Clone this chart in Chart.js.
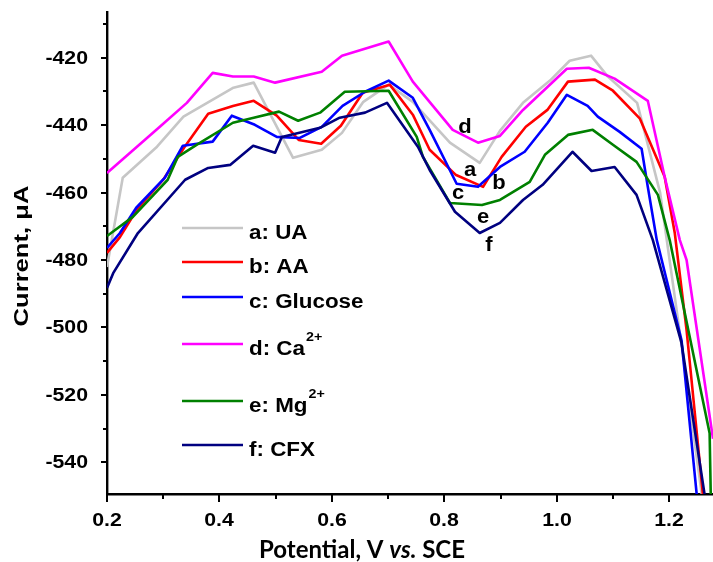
<!DOCTYPE html>
<html>
<head>
<meta charset="utf-8">
<script src="https://cdn.jsdelivr.net/npm/chart.js@4.4.1/dist/chart.umd.min.js"></script>
<style>
  html, body { margin: 0; padding: 0; background: #ffffff; }
  #wrap { width: 713px; height: 562px; }
  canvas { display: block; }
</style>
</head>
<body>
<div id="wrap"><canvas id="dpv" width="713" height="562"></canvas></div>
<script>
// Differential pulse voltammograms: potential (V vs. SCE) and current (µA)
const seriesNames = ['a: UA', 'b: AA', 'c: Glucose', 'd: Ca', 'e: Mg', 'f: CFX'];
const seriesSup   = ['', '', '', '2+', '2+', ''];
const curveTags   = ['a', 'b', 'c', 'd', 'e', 'f'];

const uaV = [0.200,0.228,0.289,0.336,0.425,0.461,0.531,0.582,0.618,0.656,0.701,0.744,0.810,0.863,0.899,0.940,0.988,1.023,1.061,1.091,1.143,1.184,1.222,1.258];
const uaI = [-482.1,-455.6,-446.4,-437.5,-428.9,-427.4,-449.7,-447.3,-442.3,-433.1,-428.0,-433.1,-445.2,-451.2,-441.7,-433.4,-426.8,-420.9,-419.4,-425.6,-433.4,-460.1,-505.2,-549.5];

const aaV = [0.200,0.223,0.253,0.300,0.337,0.380,0.424,0.461,0.502,0.541,0.581,0.616,0.655,0.703,0.744,0.774,0.820,0.869,0.902,0.945,0.984,1.020,1.068,1.100,1.148,1.192,1.210,1.231,1.260];
const aaI = [-477.9,-473.2,-465.1,-456.2,-446.7,-436.6,-434.3,-432.8,-437.2,-444.4,-445.5,-440.2,-430.4,-428.0,-436.9,-447.3,-454.7,-458.3,-449.4,-440.5,-435.4,-427.1,-426.5,-429.8,-438.1,-455.3,-472.0,-500.8,-549.5];

const glucoseV = [0.200,0.223,0.252,0.303,0.335,0.388,0.422,0.463,0.502,0.543,0.582,0.619,0.659,0.701,0.744,0.774,0.822,0.860,0.899,0.943,0.984,1.018,1.055,1.073,1.112,1.151,1.162,1.178,1.222,1.249];
const glucoseI = [-476.4,-472.0,-464.5,-455.6,-446.1,-444.9,-437.2,-439.9,-443.5,-443.8,-440.5,-434.3,-430.1,-426.8,-431.9,-441.4,-457.4,-458.3,-452.4,-447.9,-439.3,-431.0,-434.3,-437.5,-442.0,-447.0,-458.3,-474.1,-503.8,-549.5];

const caV = [0.200,0.294,0.342,0.388,0.424,0.461,0.499,0.582,0.618,0.701,0.744,0.815,0.860,0.899,0.940,0.984,1.018,1.057,1.103,1.162,1.192,1.219,1.231,1.278];
const caI = [-454.2,-440.5,-433.4,-424.5,-425.6,-425.6,-427.4,-424.2,-419.4,-415.2,-427.1,-441.4,-445.2,-443.2,-435.5,-428.6,-423.3,-423.0,-426.2,-432.8,-455.3,-474.1,-480.0,-533.0];

const mgV = [0.200,0.246,0.308,0.326,0.360,0.424,0.461,0.506,0.540,0.579,0.623,0.701,0.751,0.762,0.810,0.867,0.899,0.952,0.979,1.020,1.064,1.100,1.142,1.180,1.201,1.272,1.274];
const mgI = [-472.9,-467.2,-456.2,-449.4,-445.8,-439.3,-437.8,-436.0,-438.7,-436.3,-430.1,-429.8,-443.5,-449.4,-463.1,-463.7,-462.2,-456.8,-448.8,-442.9,-441.4,-445.8,-450.9,-460.7,-474.1,-531.4,-549.5];

const cfxV = [0.200,0.211,0.255,0.339,0.380,0.419,0.460,0.499,0.511,0.579,0.614,0.659,0.698,0.753,0.774,0.819,0.863,0.899,0.940,0.975,1.028,1.062,1.103,1.142,1.171,1.222,1.263];
const cfxI = [-488.3,-483.9,-472.0,-456.2,-452.7,-451.8,-446.1,-448.2,-443.5,-440.8,-437.8,-436.3,-433.4,-446.4,-453.3,-465.7,-472.0,-469.0,-462.2,-457.7,-447.9,-453.6,-452.4,-460.7,-474.1,-504.6,-549.5];

const xMajorTicks = [0.2, 0.4, 0.6, 0.8, 1.0, 1.2];
const xTickLabels = ['0.2', '0.4', '0.6', '0.8', '1.0', '1.2'];
const xMinorTicks = [0.3, 0.5, 0.7, 0.9, 1.1];
const yMajorTicks = [-540, -520, -500, -480, -460, -440, -420];
const yTickLabels = ['-540', '-520', '-500', '-480', '-460', '-440', '-420'];
const yMinorTicks = [-530, -510, -490, -470, -450, -430, -410];

const colors = ['#c6c6c6', '#ff0000', '#0000ff', '#ff00ff', '#008000', '#000080'];
const curves = [[uaV, uaI], [aaV, aaI], [glucoseV, glucoseI], [caV, caI], [mgV, mgI], [cfxV, cfxI]];

const datasets = curves.map(([vs, is], k) => ({
  label: seriesNames[k] + seriesSup[k],
  data: vs.map((v, j) => ({ x: v, y: is[j] })),
  borderColor: colors[k],
  backgroundColor: colors[k],
  borderWidth: 2.6,
  pointRadius: 0,
  showLine: true,
  tension: 0,
  order: 6 - k
}));

const SANS = '"Liberation Sans", Arial, sans-serif';

function stretchText(ctx, text, x, y, font, sx, align, baseline) {
  ctx.save();
  ctx.font = font;
  ctx.textAlign = align || 'left';
  ctx.textBaseline = baseline || 'alphabetic';
  ctx.translate(x, y);
  ctx.scale(sx, 1);
  ctx.fillText(text, 0, 0);
  ctx.restore();
}

function textWidth(ctx, text, font, sx) {
  ctx.save();
  ctx.font = font;
  const w = ctx.measureText(text).width * sx;
  ctx.restore();
  return w;
}

// Ticks, tick labels, titles, legend and curve tags
const decor = {
  id: 'decor',
  afterDraw(chart) {
    const ctx = chart.ctx;
    const xs = chart.scales.x, ys = chart.scales.y;
    const area = chart.chartArea;
    ctx.save();
    ctx.strokeStyle = '#000';
    ctx.fillStyle = '#000';
    ctx.lineWidth = 2;
    ctx.lineCap = 'butt';

    const tickFont = 'bold 19px ' + SANS;
    const tickSx = 1.12;

    // y axis ticks
    yMajorTicks.forEach((v, i) => {
      const py = Math.round(ys.getPixelForValue(v));
      ctx.beginPath(); ctx.moveTo(area.left - 6, py); ctx.lineTo(area.left, py); ctx.stroke();
      stretchText(ctx, yTickLabels[i], area.left - 19, py + 1, tickFont, tickSx, 'right', 'middle');
    });
    yMinorTicks.forEach(v => {
      const py = Math.round(ys.getPixelForValue(v));
      ctx.beginPath(); ctx.moveTo(area.left - 4, py); ctx.lineTo(area.left, py); ctx.stroke();
    });

    // x axis ticks
    xMajorTicks.forEach((v, i) => {
      const px = Math.round(xs.getPixelForValue(v));
      ctx.beginPath(); ctx.moveTo(px, area.bottom); ctx.lineTo(px, area.bottom + 8); ctx.stroke();
      stretchText(ctx, xTickLabels[i], px, area.bottom + 27, tickFont, tickSx, 'center', 'middle');
    });
    xMinorTicks.forEach(v => {
      const px = Math.round(xs.getPixelForValue(v));
      ctx.beginPath(); ctx.moveTo(px, area.bottom); ctx.lineTo(px, area.bottom + 5); ctx.stroke();
    });

    // y axis title
    ctx.save();
    ctx.translate(22, 256);
    ctx.rotate(-Math.PI / 2);
    stretchText(ctx, 'Current, μA', 0, 0, 'bold 21px ' + SANS, 1.22, 'center', 'middle');
    ctx.restore();

    // x axis title, with italic "vs."
    const tf = 'bold 24px Lato, "Open Sans", sans-serif';
    const tfi = 'italic bold 24px Lato, "Open Sans", sans-serif';
    const p1 = 'Potential, V ', p2 = 'vs.', p3 = ' SCE';
    const w1 = textWidth(ctx, p1, tf, 1), w2 = textWidth(ctx, p2, tfi, 1), w3 = textWidth(ctx, p3, tf, 1);
    let tx = 362 - (w1 + w2 + w3) / 2;
    const ty = 558;
    stretchText(ctx, p1, tx, ty, tf, 1, 'left'); tx += w1;
    stretchText(ctx, p2, tx, ty, tfi, 1, 'left'); tx += w2;
    stretchText(ctx, p3, tx, ty, tf, 1, 'left');

    // legend
    const legendRows = [228, 262, 297, 344, 401, 445];
    const legFont = 'bold 20px ' + SANS;
    const supFont = 'bold 13px ' + SANS;
    const legSx = 1.12;
    legendRows.forEach((ry, k) => {
      ctx.strokeStyle = colors[k];
      ctx.lineWidth = 2.6;
      ctx.beginPath(); ctx.moveTo(182, ry); ctx.lineTo(243, ry); ctx.stroke();
      stretchText(ctx, seriesNames[k], 249, ry + 11, legFont, legSx, 'left');
      if (seriesSup[k]) {
        const w = textWidth(ctx, seriesNames[k], legFont, legSx);
        stretchText(ctx, seriesSup[k], 249 + w + 1, ry - 3, supFont, 1.1, 'left');
      }
    });

    // curve tags near the first minimum
    const tagPos = [[470, 170], [499, 183], [458, 193], [465, 127], [483, 217], [489, 245]];
    curveTags.forEach((t, k) => {
      stretchText(ctx, t, tagPos[k][0], tagPos[k][1], 'bold 20px ' + SANS, 1.1, 'center', 'middle');
    });
    ctx.restore();
  }
};

new Chart(document.getElementById('dpv'), {
  type: 'scatter',
  data: { datasets },
  options: {
    responsive: false,
    animation: false,
    devicePixelRatio: 1,
    layout: { padding: { top: 12.5, right: 0, left: 0, bottom: 0 } },
    plugins: { legend: { display: false }, tooltip: { enabled: false } },
    elements: { line: { borderJoinStyle: 'round' } },
    scales: {
      x: {
        type: 'linear',
        min: 0.2,
        max: 1.278,
        grid: { display: false },
        border: { display: true, color: '#000', width: 2.4 },
        ticks: { display: false },
        afterFit(scale) { scale.height = 68; }
      },
      y: {
        type: 'linear',
        min: -549.4,
        max: -406.6,
        grid: { display: false },
        border: { display: true, color: '#000', width: 2.4 },
        ticks: { display: false },
        afterFit(scale) { scale.width = 107; }
      }
    }
  },
  plugins: [decor]
});
</script>
</body>
</html>
